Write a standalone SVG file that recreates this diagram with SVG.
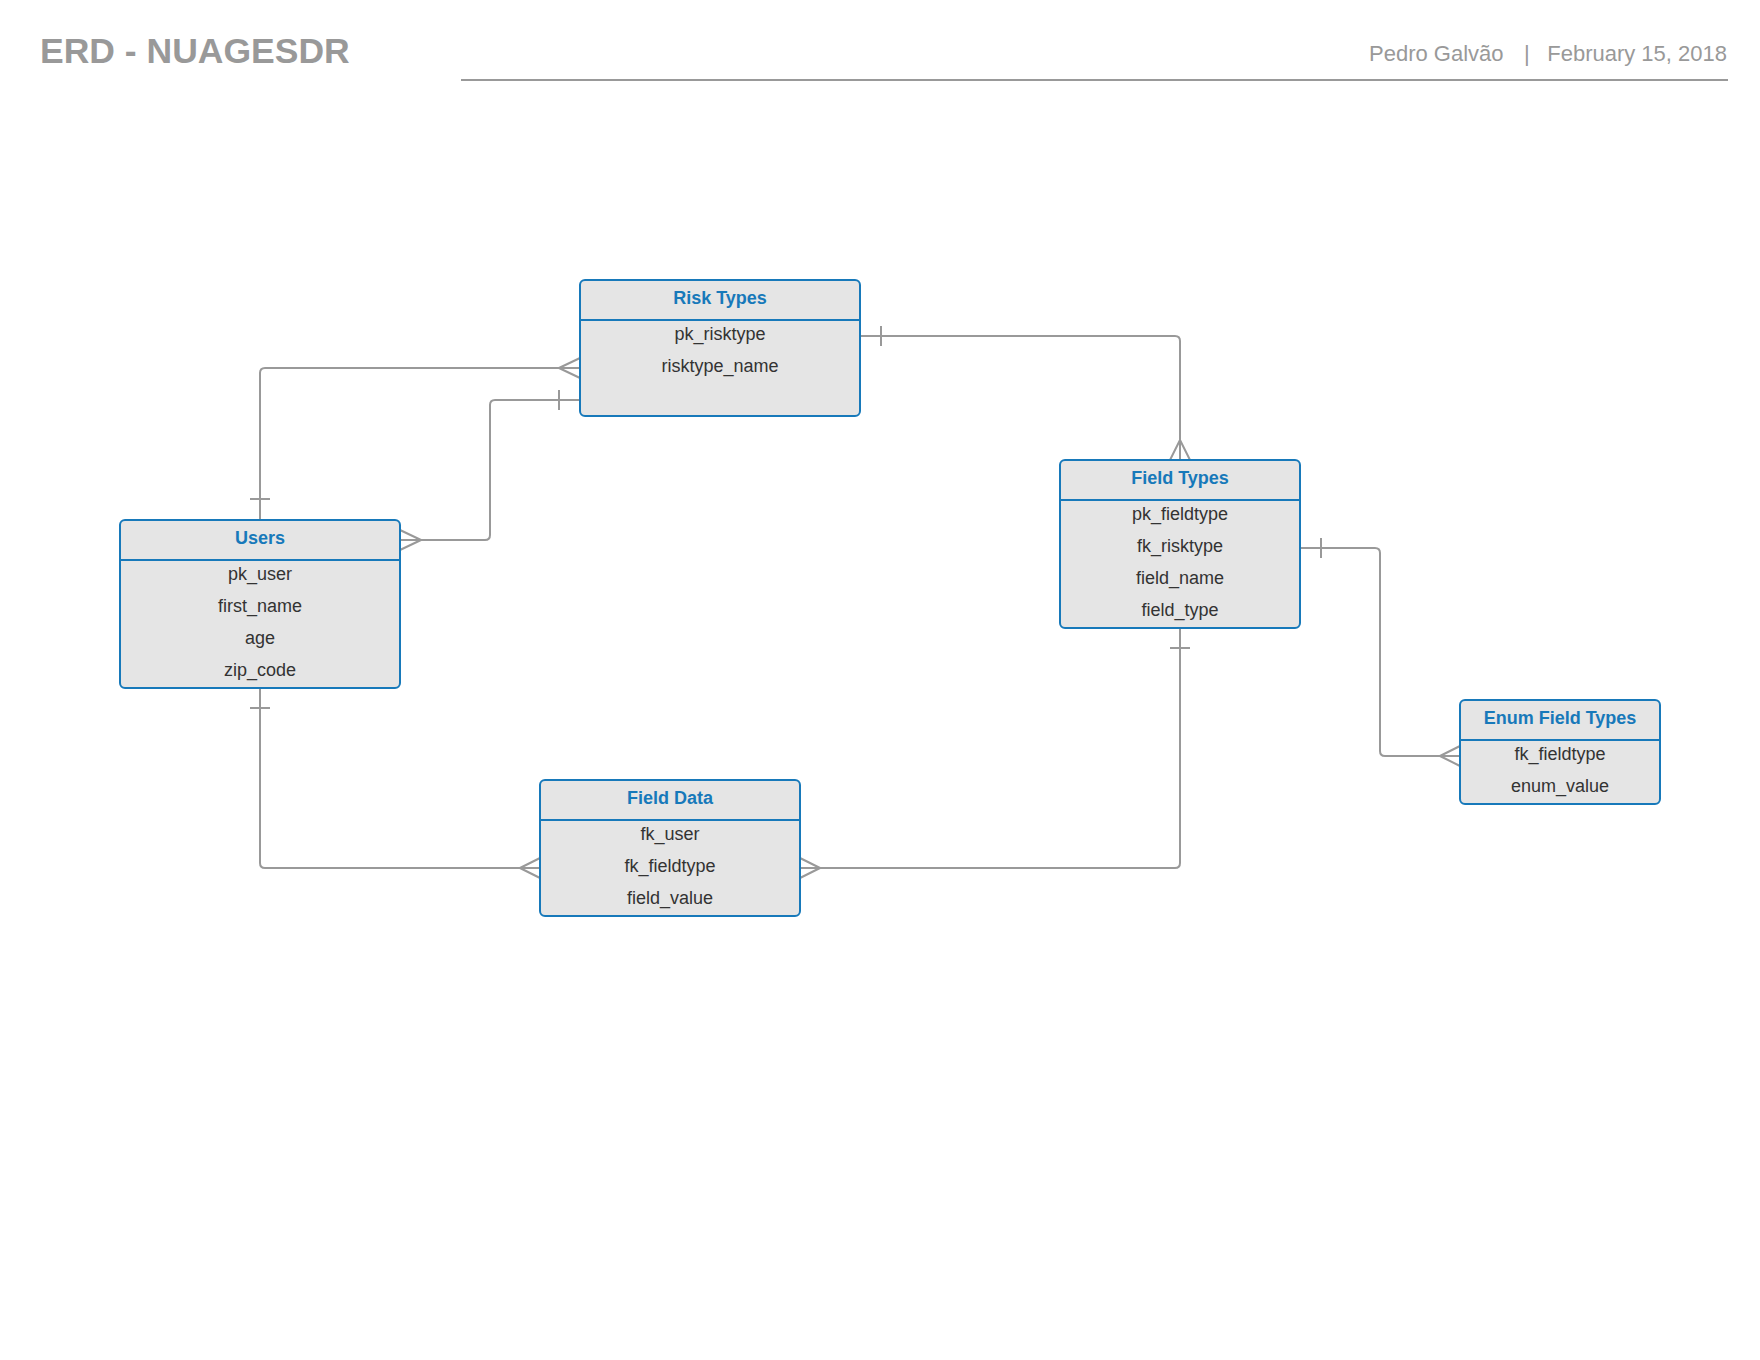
<svg xmlns="http://www.w3.org/2000/svg" width="1760" height="1360" viewBox="0 0 1760 1360">
<style>
.box{fill:#e5e5e5;stroke:#1779ba;stroke-width:2}
.div{stroke:#1779ba;stroke-width:2}
.ttl{font-family:"Liberation Sans",Arial,sans-serif;font-weight:bold;font-size:18px;fill:#1779ba;text-anchor:middle}
.row{font-family:"Liberation Sans",Arial,sans-serif;font-size:18px;fill:#333333;text-anchor:middle}
.con{fill:none;stroke:#999999;stroke-width:2}
.hdr{font-family:"Liberation Sans",Arial,sans-serif;font-size:22px;fill:#999999}
</style>
<rect width="1760" height="1360" fill="#ffffff"/>
<g id="header">
<text x="40" y="63" font-family="Liberation Sans, Arial, sans-serif" font-weight="bold" font-size="35.5" fill="#999999">ERD - NUAGESDR</text>
<text class="hdr" x="1369" y="61">Pedro Galvão</text>
<text class="hdr" x="1524" y="61">|</text>
<text class="hdr" x="1727" y="61" text-anchor="end">February 15, 2018</text>
<line x1="461" y1="80" x2="1728" y2="80" stroke="#999999" stroke-width="2"/>
</g>
<g id="connectors">
<path class="con" d="M260,520 V373 Q260,368 265,368 H580 M559,368 L580,358 M559,368 L580,378 M250,499 H270"/>
<path class="con" d="M400,540 H485 Q490,540 490,535 V405 Q490,400 495,400 H580 M421,540 L400,530 M421,540 L400,550 M559,390 V410"/>
<path class="con" d="M860,336 H1175 Q1180,336 1180,341 V460 M881,326 V346 M1180,440 L1170,460 M1180,440 L1190,460"/>
<path class="con" d="M1300,548 H1375 Q1380,548 1380,553 V751 Q1380,756 1385,756 H1460 M1321,538 V558 M1440,756 L1460,746 M1440,756 L1460,766"/>
<path class="con" d="M260,688 V863 Q260,868 265,868 H540 M250,708 H270 M520,868 L540,858 M520,868 L540,878"/>
<path class="con" d="M1180,628 V863 Q1180,868 1175,868 H800 M1170,648 H1190 M820,868 L800,858 M820,868 L800,878"/>
</g>
<g id="risk-types">
<rect class="box" x="580" y="280" width="280" height="136" rx="5"/>
<line class="div" x1="580" y1="320" x2="860" y2="320"/>
<text class="ttl" x="720" y="304">Risk Types</text>
<text class="row" x="720" y="340">pk_risktype</text>
<text class="row" x="720" y="372">risktype_name</text>
</g>
<g id="users">
<rect class="box" x="120" y="520" width="280" height="168" rx="5"/>
<line class="div" x1="120" y1="560" x2="400" y2="560"/>
<text class="ttl" x="260" y="544">Users</text>
<text class="row" x="260" y="580">pk_user</text>
<text class="row" x="260" y="612">first_name</text>
<text class="row" x="260" y="644">age</text>
<text class="row" x="260" y="676">zip_code</text>
</g>
<g id="field-types">
<rect class="box" x="1060" y="460" width="240" height="168" rx="5"/>
<line class="div" x1="1060" y1="500" x2="1300" y2="500"/>
<text class="ttl" x="1180" y="484">Field Types</text>
<text class="row" x="1180" y="520">pk_fieldtype</text>
<text class="row" x="1180" y="552">fk_risktype</text>
<text class="row" x="1180" y="584">field_name</text>
<text class="row" x="1180" y="616">field_type</text>
</g>
<g id="enum-field-types">
<rect class="box" x="1460" y="700" width="200" height="104" rx="5"/>
<line class="div" x1="1460" y1="740" x2="1660" y2="740"/>
<text class="ttl" x="1560" y="724">Enum Field Types</text>
<text class="row" x="1560" y="760">fk_fieldtype</text>
<text class="row" x="1560" y="792">enum_value</text>
</g>
<g id="field-data">
<rect class="box" x="540" y="780" width="260" height="136" rx="5"/>
<line class="div" x1="540" y1="820" x2="800" y2="820"/>
<text class="ttl" x="670" y="804">Field Data</text>
<text class="row" x="670" y="840">fk_user</text>
<text class="row" x="670" y="872">fk_fieldtype</text>
<text class="row" x="670" y="904">field_value</text>
</g>
</svg>
